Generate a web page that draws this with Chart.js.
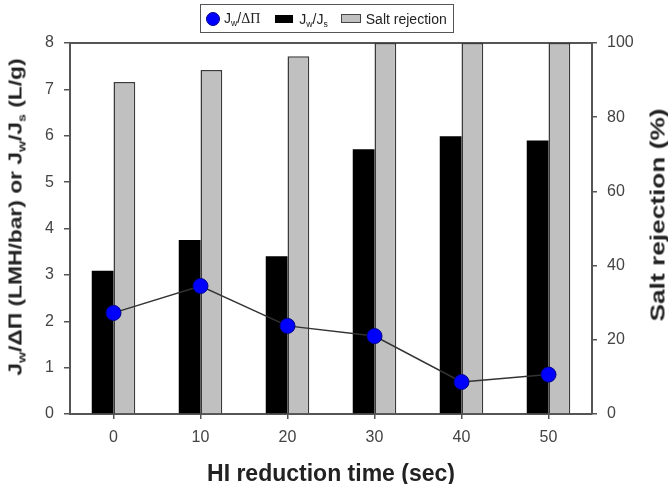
<!DOCTYPE html>
<html>
<head>
<meta charset="utf-8">
<script src="https://cdn.jsdelivr.net/npm/chart.js@4.4.1/dist/chart.umd.min.js"></script>
<style>
  body { margin: 0; background: #fff; }
  #wrap { position: relative; width: 668px; height: 484px; font-family: "Liberation Sans", Arial, sans-serif; }
  #chart { position: absolute; left: 0; top: 0; }
  sub { font-size: 0.62em; vertical-align: -0.3em; line-height: 0; }
  .vt { position: absolute; white-space: nowrap; font-weight: bold; color: #222; line-height: 1; }
  #yTitle { left: 15px; top: 217px; font-size: 19px; transform: translate(-50%, -50%) rotate(-90deg) scaleX(1.2); }
  #y2Title { left: 657px; top: 215px; font-size: 21px; transform: translate(-50%, -50%) rotate(-90deg) scaleX(1.25); }
  #xTitle { position: absolute; left: 331px; top: 462px; transform: translateX(-50%); white-space: nowrap;
            font-weight: bold; font-size: 23px; line-height: 23px; color: #222; }
  #legend { position: absolute; left: 200px; top: 4px; width: 254px; height: 29px; box-sizing: border-box;
            border: 1.5px solid #555; display: flex; align-items: center; font-size: 14px; color: #222; }
  .dot { width: 12px; height: 12px; border-radius: 50%; background: #0000ff; border: 1px solid #00008b; margin: 0 4px 0 5px; }
  .blk { width: 18px; height: 8px; background: #000; margin: 0 6px 0 15px; }
  .gry { width: 18px; height: 7px; background: #c0c0c0; border: 1px solid #444; margin: 0 5px 0 13px; }
  .sym { font-family: "Liberation Serif", serif; }
</style>
</head>
<body>
<div id="wrap">
  <canvas id="chart" width="668" height="484"></canvas>
  <div id="legend">
    <span class="dot"></span><span>J<sub>w</sub>/<span class="sym">ΔΠ</span></span>
    <span class="blk"></span><span>J<sub>w</sub>/J<sub>s</sub></span>
    <span class="gry"></span><span>Salt rejection</span>
  </div>
  <div class="vt" id="yTitle">J<sub>w</sub>/ΔΠ (LMH/bar) or J<sub>w</sub>/J<sub>s</sub> (L/g)</div>
  <div class="vt" id="y2Title">Salt rejection (%)</div>
  <div id="xTitle">HI reduction time (sec)</div>
</div>
<script>
// HI reduction time (sec)
const timeLabels = ['0', '10', '20', '30', '40', '50'];
// Jw/ΔΠ (LMH/bar), left axis
const fluxPerOsmotic = [2.18, 2.76, 1.90, 1.68, 0.69, 0.85];
// Jw/Js (L/g), left axis
const fluxRatio = [3.09, 3.75, 3.40, 5.71, 5.99, 5.90];
// Salt rejection (%), right axis
const saltRejection = [89.5, 92.7, 96.4, 100, 100, 100];

const axisColor = '#555';
const tickFont = { family: '"Liberation Sans", Arial, sans-serif', size: 16 };

const ctx = document.getElementById('chart').getContext('2d');
new Chart(ctx, {
    data: {
        labels: timeLabels,
        datasets: [
            {
                type: 'line',
                label: 'Jw/ΔΠ',
                data: fluxPerOsmotic,
                yAxisID: 'y',
                order: 1,
                borderColor: '#333',
                borderWidth: 1.5,
                pointRadius: 7.5,
                pointBackgroundColor: '#0000ff',
                pointBorderColor: '#00008b',
                pointBorderWidth: 1,
                tension: 0
            },
            {
                type: 'bar',
                label: 'Jw/Js',
                data: fluxRatio,
                yAxisID: 'y',
                order: 2,
                backgroundColor: '#000',
                borderColor: '#000',
                borderWidth: 0,
                categoryPercentage: 0.5,
                barPercentage: 1.0
            },
            {
                type: 'bar',
                label: 'Salt rejection',
                data: saltRejection,
                yAxisID: 'y2',
                order: 2,
                backgroundColor: '#c0c0c0',
                borderColor: '#3a3a3a',
                borderWidth: 1.5,
                categoryPercentage: 0.5,
                barPercentage: 1.0
            }
        ]
    },
    options: {
        responsive: false,
        animation: false,
        layout: { padding: { top: 43, left: 0, right: 0, bottom: 0 } },
        plugins: { legend: { display: false }, tooltip: { enabled: false } },
        scales: {
            x: {
                type: 'category',
                position: 'bottom',
                afterFit: (scale) => { scale.height = 70; },
                grid: { display: true, drawOnChartArea: false, drawTicks: true, tickLength: 5, offset: false, color: axisColor, lineWidth: 1.5 },
                border: { display: true, color: axisColor, width: 2 },
                ticks: { color: '#444', font: tickFont, padding: 9, maxRotation: 0 }
            },
            xTop: {
                type: 'category',
                position: 'top',
                afterFit: (scale) => { scale.height = 0; },
                grid: { display: false },
                border: { display: true, color: axisColor, width: 2 },
                ticks: { display: false }
            },
            y: {
                position: 'left',
                min: 0,
                max: 8,
                afterFit: (scale) => { scale.width = 70; },
                grid: { display: true, drawOnChartArea: false, drawTicks: true, tickLength: 6, color: axisColor, lineWidth: 1.5 },
                border: { display: true, color: axisColor, width: 2 },
                ticks: { stepSize: 1, color: '#444', font: tickFont, padding: 10 }
            },
            y2: {
                position: 'right',
                min: 0,
                max: 100,
                afterFit: (scale) => { scale.width = 76; },
                grid: { display: true, drawOnChartArea: false, drawTicks: true, tickLength: 5, color: axisColor, lineWidth: 1.5 },
                border: { display: true, color: axisColor, width: 2 },
                ticks: { stepSize: 20, color: '#444', font: tickFont, padding: 10 }
            }
        }
    }
});
</script>
</body>
</html>
